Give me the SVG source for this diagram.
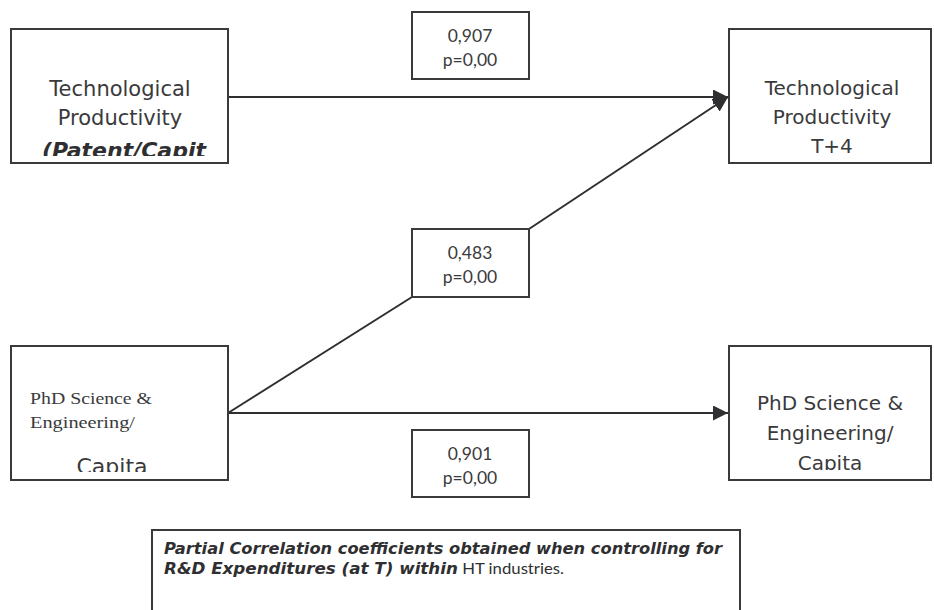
<svg xmlns="http://www.w3.org/2000/svg" width="934" height="610" viewBox="0 0 934 610">
<style>
.box{fill:#fff;stroke:#3a3a3c;stroke-width:2}
.lbl{fill:#fff;stroke:#3a3a3c;stroke-width:2}
.con{stroke:#2f2f31;stroke-width:2;fill:none}
.t{font-family:"DejaVu Sans",Verdana,sans-serif;font-size:20px;fill:#3a3a3c;text-anchor:middle}
.t1{font-size:21px}
.tb{font-family:"DejaVu Sans",Verdana,sans-serif;font-size:22px;font-weight:bold;font-style:italic;fill:#2f2f31;text-anchor:middle}
.s{font-family:"Liberation Serif","Times New Roman",serif;font-size:17px;fill:#3a3a3c}
.n{font-family:"Lato","DejaVu Sans",sans-serif;font-size:17.5px;fill:#3a3a3c;text-anchor:middle}
.cap{font-family:"DejaVu Sans",Verdana,sans-serif;font-size:16px;font-weight:bold;font-style:italic;fill:#2f2f31}
.capn{font-family:"Lato","DejaVu Sans",sans-serif;font-size:16px;font-weight:normal;font-style:normal}
</style>
<defs>
<marker id="ah2" viewBox="0 0 10 10" refX="10" refY="5" markerWidth="15" markerHeight="15" markerUnits="userSpaceOnUse" orient="auto">
<path d="M0,0 L10,5 L0,10 z" fill="#2f2f31"/>
</marker>
<clipPath id="c1"><rect x="11" y="29" width="217" height="127"/></clipPath>
<clipPath id="c3"><rect x="11" y="346" width="217" height="126"/></clipPath>
<clipPath id="c4"><rect x="729" y="346" width="202" height="124"/></clipPath>
</defs>
<g id="connectors">
<line class="con" x1="228" y1="97" x2="728" y2="97" marker-end="url(#ah2)"/>
<line class="con" x1="228" y1="413" x2="412" y2="297"/>
<line class="con" x1="529" y1="229" x2="728" y2="97" marker-end="url(#ah2)"/>
<line class="con" x1="228" y1="413" x2="728" y2="413" marker-end="url(#ah2)"/>
</g>
<g id="n1">
<rect class="box" x="11" y="29" width="217" height="134"/>
<g clip-path="url(#c1)">
<text class="t t1" x="120" y="96">Technological</text>
<text class="t t1" x="120" y="125">Productivity</text>
<text class="tb" x="124" y="158">(Patent/Capit</text>
</g>
</g>
<g id="n2">
<rect class="box" x="729" y="29" width="202" height="134"/>
<text class="t" x="832" y="95">Technological</text>
<text class="t" x="832" y="124">Productivity</text>
<text class="t" x="832" y="153">T+4</text>
</g>
<g id="n3">
<rect class="box" x="11" y="346" width="217" height="134"/>
<text class="s" x="30" y="404" textLength="122" lengthAdjust="spacingAndGlyphs">PhD Science &amp;</text>
<text class="s" x="30" y="428" textLength="105" lengthAdjust="spacingAndGlyphs">Engineering/</text>
<g clip-path="url(#c3)">
<text class="t" style="font-size:22px" x="112" y="474">Capita</text>
</g>
</g>
<g id="n4">
<rect class="box" x="729" y="346" width="202" height="134"/>
<text class="t" x="830" y="410">PhD Science &amp;</text>
<text class="t" x="830" y="440">Engineering/</text>
<g clip-path="url(#c4)">
<text class="t" x="830" y="470">Capita</text>
</g>
</g>
<g id="l1">
<rect class="lbl" x="412" y="12" width="117" height="67"/>
<text class="n" x="470" y="42">0,907</text>
<text class="n" x="470" y="66">p=0,00</text>
</g>
<g id="l2">
<rect class="lbl" x="412" y="229" width="117" height="68"/>
<text class="n" x="470" y="259">0,483</text>
<text class="n" x="470" y="283">p=0,00</text>
</g>
<g id="l3">
<rect class="lbl" x="412" y="430" width="117" height="67"/>
<text class="n" x="470" y="460">0,901</text>
<text class="n" x="470" y="484">p=0,00</text>
</g>
<g id="caption">
<rect class="box" x="152" y="530" width="588" height="100"/>
<text class="cap" x="164" y="554" textLength="558" lengthAdjust="spacingAndGlyphs">Partial Correlation coefficients obtained when controlling for</text>
<text class="cap" x="164" y="574" textLength="400" lengthAdjust="spacingAndGlyphs">R&amp;D Expenditures (at T) within<tspan class="capn"> HT industries.</tspan></text>
</g>
</svg>
